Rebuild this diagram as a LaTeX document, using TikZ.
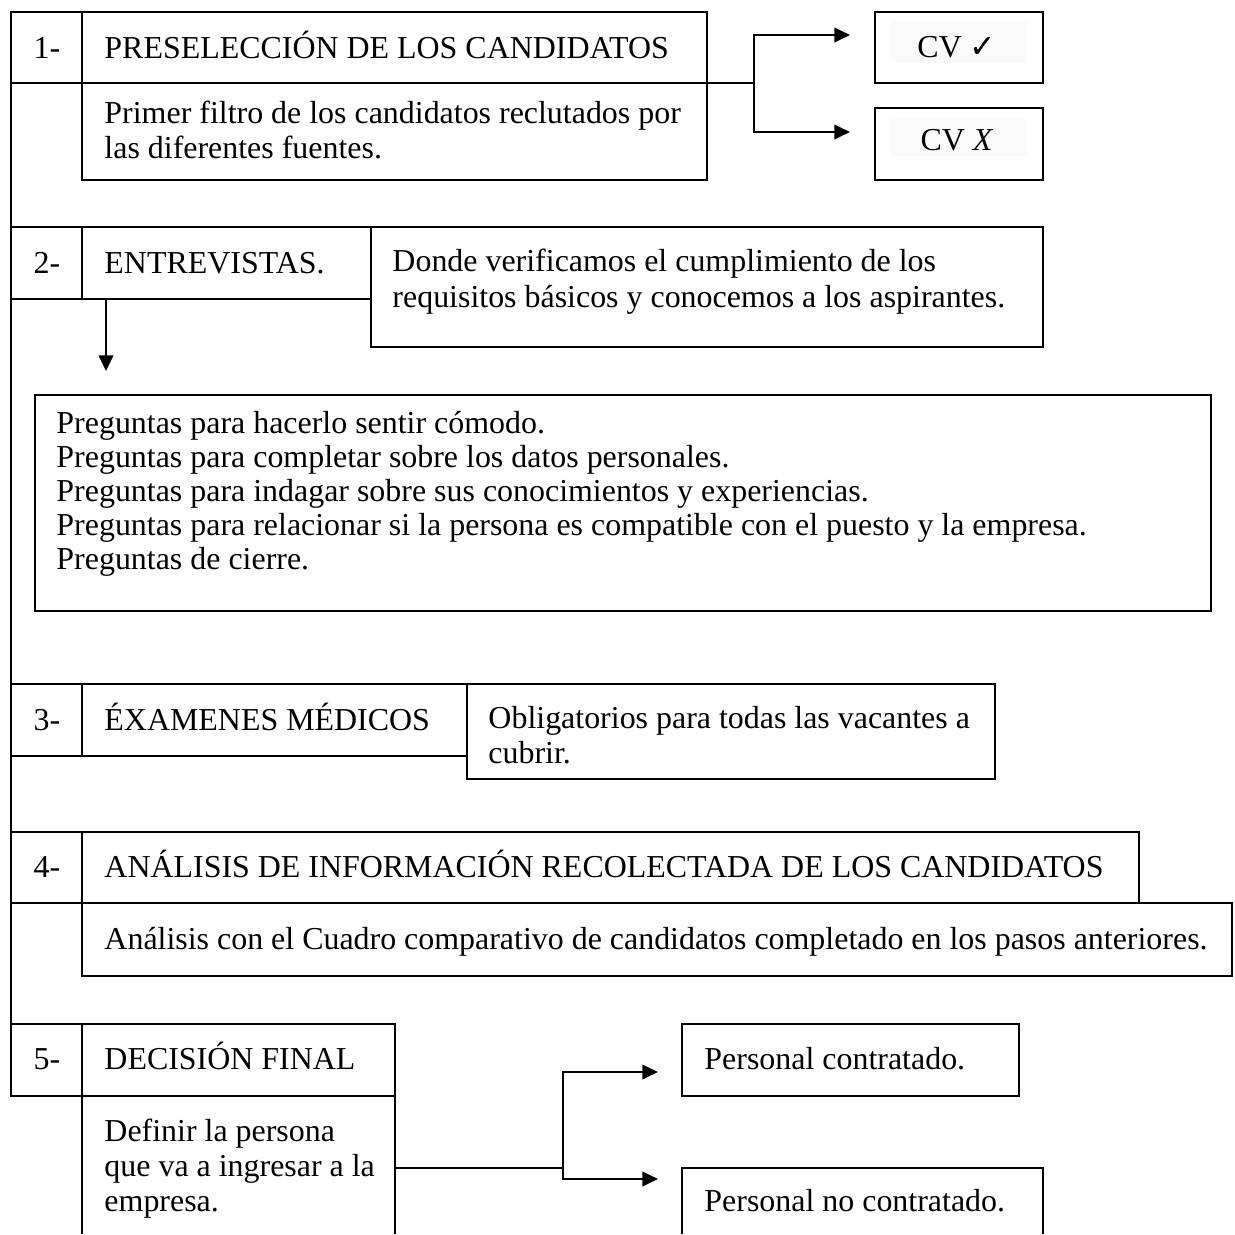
\documentclass[tikz,border=0pt]{standalone}
\usepackage{fontspec}
\setmainfont{Liberation Serif}
\newfontfamily\symbolfont{DejaVu Sans}
\usetikzlibrary{fit,arrows.meta}
\begin{document}
\begin{tikzpicture}[x=0.4134pt,y=-0.4134pt,
  frame/.style={draw, line width=0.8pt, inner sep=0pt, outer sep=0pt},
  area/.style={inner sep=0pt, outer sep=0pt},
  shade/.style={fill=black!2, inner sep=0pt, outer sep=0pt},
  txt/.style={anchor=base west, inner sep=0pt, font=\fontsize{13.2}{15}\selectfont},
  num/.style={anchor=base, inner sep=0pt, font=\fontsize{13.2}{15}\selectfont},
  mid/.style={anchor=base, inner sep=0pt, font=\fontsize{13.2}{15}\selectfont},
  edge/.style={line width=0.8pt},
  link/.style={line width=1pt},
  arrowlink/.style={link, -{Triangle[length=6.5pt,width=6pt]}},
]
\useasboundingbox (0,0) rectangle (1235,1234);

% ---- 1: preselección ----
\node[frame, fit={(11,12) (707,83)}] (h1) {};
\draw[edge] (82,12) -- (82,83);
\node[num] (n1) at (47,58) {1-};
\node[txt] (t1) at (104,58) {PRESELECCIÓN DE LOS CANDIDATOS};
\node[frame, fit={(82,83) (707,180)}] (d1) {};
\node[txt] (d1a) at (104,123) {Primer filtro de los candidatos reclutados por};
\node[txt] (d1b) at (104,158) {las diferentes fuentes.};

\node[frame, fit={(875,12) (1043,83)}] (cvok) {};
\node[shade, fit={(891,22) (1027,63)}] (cvokbg) {};
\node[mid] (cvoktxt) at (957,57) {CV {\symbolfont ✓}};
\node[frame, fit={(875,108) (1043,180)}] (cvno) {};
\node[shade, fit={(891,119) (1027,156)}] (cvnobg) {};
\node[mid] (cvnotxt) at (957,150) {CV \textit{X}};

\coordinate (j1) at (754,83);
\coordinate (a1) at (850,35);
\coordinate (a2) at (850,132);
\draw[link] (h1.south east) -- (j1);
\draw[arrowlink] (j1) |- (a1);
\draw[arrowlink] (j1) |- (a2);

% ---- left spine ----
\draw[edge] (h1.south west) -- (11,1024);

% ---- 2: entrevistas ----
\node[frame, fit={(11,227) (371,299)}] (h2) {};
\draw[edge] (82,227) -- (82,299);
\node[num] (n2) at (47,273) {2-};
\node[txt] (t2) at (104,273) {ENTREVISTAS.};
\node[frame, fit={(371,227) (1043,347)}] (d2) {};
\node[txt] (d2a) at (392,271) {Donde verificamos el cumplimiento de los};
\node[txt] (d2b) at (392,307) {requisitos básicos y conocemos a los aspirantes.};

\node[frame, fit={(35,395) (1211,611)}] (q) {};
\node[txt] (q1) at (56,433) {Preguntas para hacerlo sentir cómodo.};
\node[txt] (q2) at (56,467) {Preguntas para completar sobre los datos personales.};
\node[txt] (q3) at (56,501) {Preguntas para indagar sobre sus conocimientos y experiencias.};
\node[txt] (q4) at (56,535) {Preguntas para relacionar si la persona es compatible con el puesto y la empresa.};
\node[txt] (q5) at (56,569) {Preguntas de cierre.};

\coordinate (a3) at (106,371);
\draw[arrowlink] (h2.south west -| a3) -- (a3);

% ---- 3: exámenes médicos ----
\node[frame, fit={(11,684) (467,756)}] (h3) {};
\draw[edge] (82,684) -- (82,756);
\node[num] (n3) at (47,730) {3-};
\node[txt] (t3) at (104,730) {ÉXAMENES MÉDICOS};
\node[frame, fit={(467,684) (995,779)}] (d3) {};
\node[txt] (d3a) at (488,728) {Obligatorios para todas las vacantes a};
\node[txt] (d3b) at (488,763) {cubrir.};

% ---- 4: análisis ----
\node[frame, fit={(11,832) (1139,903)}] (h4) {};
\draw[edge] (82,832) -- (82,903);
\node[num] (n4) at (47,877) {4-};
\node[txt] (t4) at (104,877) {ANÁLISIS DE INFORMACIÓN RECOLECTADA DE LOS CANDIDATOS};
\node[frame, fit={(82,903) (1232,976)}] (d4) {};
\node[txt] (d4a) at (104,949) {Análisis con el Cuadro comparativo de candidatos completado en los pasos anteriores.};

% ---- 5: decisión final ----
\node[frame, fit={(11,1024) (395,1096)}] (h5) {};
\draw[edge] (82,1024) -- (82,1096);
\node[num] (n5) at (47,1069) {5-};
\node[txt] (t5) at (104,1069) {DECISIÓN FINAL};
\node[area, fit={(82,1096) (395,1234)}] (d5) {};
\draw[edge] (d5.north west) -- (d5.south west);
\draw[edge] (d5.north east) -- (d5.south east);
\node[txt] (d5a) at (104,1141) {Definir la persona};
\node[txt] (d5b) at (104,1176) {que va a ingresar a la};
\node[txt] (d5c) at (104,1211) {empresa.};

\node[frame, fit={(682,1024) (1019,1096)}] (pc) {};
\node[txt] (pctxt) at (704,1069) {Personal contratado.};
\node[area, fit={(682,1168) (1043,1234)}] (pn) {};
\draw[edge] (pn.south west) |- (pn.north east) -- (pn.south east);
\node[txt] (pntxt) at (704,1211) {Personal no contratado.};

\coordinate (j5) at (563,1168);
\coordinate (a4) at (658,1072);
\coordinate (a5) at (658,1179);
\draw[link] (d5.east |- j5) -- (j5);
\draw[arrowlink] (j5) |- (a4);
\draw[arrowlink] (j5) |- (a5);
\end{tikzpicture}
\end{document}
